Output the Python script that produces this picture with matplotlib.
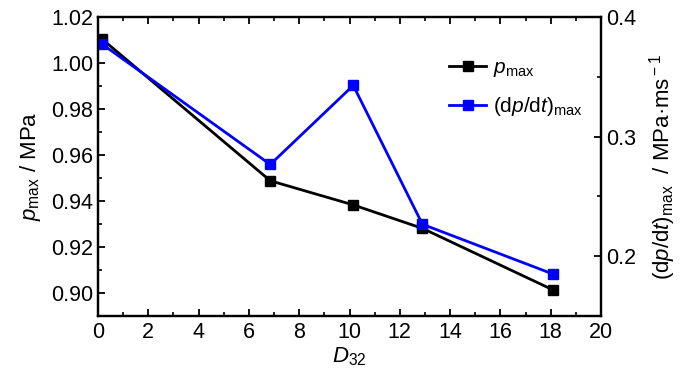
import matplotlib
matplotlib.use("Agg")
import matplotlib.pyplot as plt
from matplotlib.ticker import MultipleLocator

plt.rcParams['font.family'] = ['Liberation Sans', 'DejaVu Sans']
plt.rcParams['mathtext.fontset'] = 'custom'
plt.rcParams['mathtext.rm'] = 'Liberation Sans'
plt.rcParams['mathtext.it'] = 'Liberation Sans:italic'
plt.rcParams['mathtext.bf'] = 'Liberation Sans:bold'

D32 = [0.15, 6.85, 10.15, 12.9, 18.1]
p_max = [1.0105, 0.9488, 0.9383, 0.9281, 0.9013]
dpdt_max = [0.3775, 0.2767, 0.3428, 0.2267, 0.185]

fig = plt.figure(figsize=(7.0, 3.74), dpi=100)
ax = fig.add_axes([98/700, 1 - 316/374, 503/700, 299/374])
ax2 = ax.twinx()

l1, = ax.plot(D32, p_max, color='black', lw=2, marker='s', ms=7, mec='black', mfc='black', label=r'$\mathit{p}_{\rm max}$')
l2, = ax2.plot(D32, dpdt_max, color='#0000ff', lw=2, marker='s', ms=7, mec='#0000ff', mfc='#0000ff', label=r'$\rm (d\mathit{p}/d\mathit{t})_{max}$')

ax.set_xlim(0, 20)
ax.set_ylim(0.89, 1.02)
ax2.set_ylim(0.15, 0.4)

ax.xaxis.set_major_locator(MultipleLocator(2))
ax.xaxis.set_minor_locator(MultipleLocator(1))
ax.yaxis.set_major_locator(MultipleLocator(0.02))
ax.yaxis.set_minor_locator(MultipleLocator(0.01))
ax2.yaxis.set_major_locator(MultipleLocator(0.1))
ax2.yaxis.set_minor_locator(MultipleLocator(0.05))
ax.yaxis.set_major_formatter(matplotlib.ticker.FormatStrFormatter('%.2f'))
ax2.yaxis.set_major_formatter(matplotlib.ticker.FormatStrFormatter('%.1f'))

for a in (ax, ax2):
    for s in a.spines.values():
        s.set_linewidth(1.6)
ax.tick_params(axis='both', which='major', direction='in', length=5, width=1.3, labelsize=15.5, top=True)
ax.tick_params(axis='both', which='minor', direction='in', length=3, width=1.2, top=True)
ax.tick_params(axis='x', which='both', labeltop=False, pad=4)
ax2.tick_params(axis='y', which='major', direction='in', length=5, width=1.3, labelsize=15.5)
ax2.tick_params(axis='y', which='minor', direction='in', length=3, width=1.2)

ax.set_xlabel(r'$\mathit{D}_{\rm 32}$', fontsize=16, labelpad=2)
ax.set_ylabel(r'$\mathit{p}_{\rm max}$ / MPa', fontsize=16, labelpad=6)
ax2.set_ylabel(r'$\rm (d\mathit{p}/d\mathit{t})_{max}$  / MPa·ms$^{\rm -1}$', fontsize=16, labelpad=8)

leg = ax.legend(handles=[l1, l2], loc='upper right', bbox_to_anchor=(0.98, 0.89), frameon=False,
                fontsize=15, handlelength=1.8, handletextpad=0.3, labelspacing=0.75, borderaxespad=0)

fig.savefig('out.png', dpi=100)
